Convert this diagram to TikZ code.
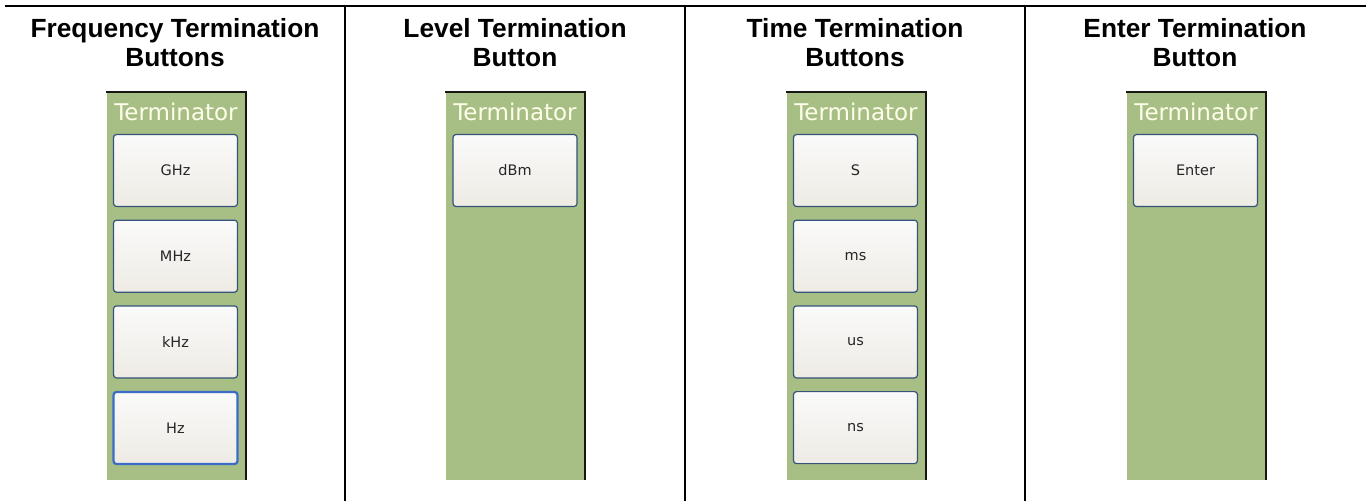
\documentclass[tikz,border=0pt]{standalone}
\usepackage{fontspec}
\setmainfont{Liberation Sans}
\newfontfamily\guifont{DejaVu Sans}
\usetikzlibrary{positioning}

\definecolor{panelgreen}{RGB}{167,191,133}
\definecolor{paneledge}{RGB}{20,24,16}
\definecolor{btnedge}{RGB}{52,82,122}
\definecolor{btntop}{RGB}{250,250,250}
\definecolor{btnbottom}{RGB}{238,235,228}
\definecolor{hotedge}{RGB}{58,108,200}

\tikzset{
  heading/.style={font=\fontsize{26.3}{29}\selectfont\bfseries, align=center},
  panel/.style={fill=panelgreen, minimum width=139pt, minimum height=388pt, inner sep=0pt},
  paneltitle/.style={text=white!92!yellow, font=\guifont\fontsize{23}{23}\selectfont, inner sep=0pt},
  unitbtn/.style={rounded corners=3pt, draw=btnedge, line width=1.2pt,
    top color=btntop, bottom color=btnbottom, minimum width=124pt, minimum height=72pt,
    font=\guifont\fontsize{14.5}{14.5}\selectfont, text=black!85},
  hotbtn/.style={unitbtn, draw=hotedge, line width=2.2pt}
}

\begin{document}
\begin{tikzpicture}[x=1pt, y=-1pt]
  \useasboundingbox (0,0) rectangle (1366,501);

  % Table rules
  \draw[line width=2pt] (5,6) -- (1366,6);
  \foreach \x in {345,685,1025}
    \draw[line width=2pt] (\x,6) -- (\x,501);

  % Column headings
  \node[heading] (freqhead) at (175,43) {Frequency Termination\\Buttons};
  \node[heading] (levelhead) at (515,43) {Level Termination\\Button};
  \node[heading] (timehead) at (855,43) {Time Termination\\Buttons};
  \node[heading] (enterhead) at (1195,43) {Enter Termination\\Button};

  % Terminator panels
  \foreach \cx/\name in {176/freq,515/level,856/time,1196/enter} {
    \node[panel] (\name panel) at (\cx,286) {};
    \draw[line width=1.6pt, paneledge] (\name panel.north west) -- (\name panel.north east)
      -- (\name panel.south east);
    \node[paneltitle, anchor=base] (\name label) at (\cx,120) {Terminator};
  }

  % Unit buttons
  \foreach \unit [count=\i] in {GHz,MHz,kHz}
    \node[unitbtn] (freqbtn\i) at (175.5,{170.5+85.7*(\i-1)}) {\unit};
  \node[hotbtn] (freqbtn4) at (175.5,428) {Hz};
  \node[unitbtn] (levelbtn1) at (515,170.5) {dBm};
  \foreach \unit [count=\i] in {S,ms,us,ns}
    \node[unitbtn] (timebtn\i) at (855.5,{170.5+85.7*(\i-1)}) {\unit};
  \node[unitbtn] (enterbtn1) at (1195.5,170.5) {Enter};
\end{tikzpicture}
\end{document}
